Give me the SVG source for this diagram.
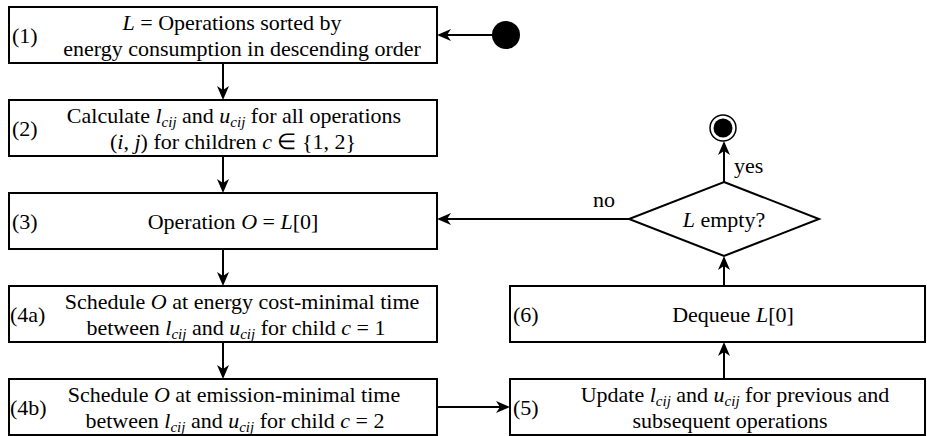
<svg xmlns="http://www.w3.org/2000/svg" width="927" height="436" viewBox="0 0 927 436">
<rect width="927" height="436" fill="#fff"/>
<g id="edges" fill="none" stroke="#000" stroke-width="2">
<line x1="492" y1="35" x2="445" y2="35"/>
<line x1="223" y1="63" x2="223" y2="93"/>
<line x1="223" y1="156" x2="223" y2="186"/>
<line x1="223" y1="249" x2="223" y2="279"/>
<line x1="223" y1="342" x2="223" y2="372"/>
<line x1="437" y1="407" x2="503" y2="407"/>
<line x1="724" y1="379" x2="724" y2="349"/>
<line x1="724" y1="286" x2="724" y2="263"/>
<line x1="724" y1="182" x2="724" y2="148"/>
<line x1="629" y1="219" x2="445" y2="219"/>
</g>
<g id="arrowheads" fill="#000" stroke="none">
<polygon points="437,35 451,29 447,35 451,41"/>
<polygon points="223,100 217,86 223,90 229,86"/>
<polygon points="223,193 217,179 223,183 229,179"/>
<polygon points="223,286 217,272 223,276 229,272"/>
<polygon points="223,379 217,365 223,369 229,365"/>
<polygon points="510,407 496,401 500,407 496,413"/>
<polygon points="724,342 718,356 724,352 730,356"/>
<polygon points="724,256 718,270 724,266 730,270"/>
<polygon points="724,141 718,155 724,151 730,155"/>
<polygon points="437,219 451,213 447,219 451,225"/>
</g>
<g id="edge-labels">
<text font-family="Liberation Serif" font-size="22" x="734" y="173">yes</text>
<text font-family="Liberation Serif" font-size="22" x="593" y="207">no</text>
</g>
<g id="start"><circle cx="506" cy="35" r="14" fill="#000"/></g>
<g id="end"><circle cx="723" cy="128" r="13" fill="#fff" stroke="#000" stroke-width="1.5"/><circle cx="723" cy="128" r="9.5" fill="#000"/></g>
<g id="n1">
<rect x="9" y="7" width="428" height="56" fill="#fff" stroke="#000" stroke-width="2"/>
<text font-family="Liberation Serif" font-size="22" x="12" y="43">(1)</text>
<text font-family="Liberation Serif" font-size="22" text-anchor="middle" x="232" y="29.5"><tspan font-style="italic">L</tspan> = Operations sorted by</text>
<text font-family="Liberation Serif" font-size="22" text-anchor="middle" x="242" y="56">energy consumption in descending order</text>
</g>
<g id="n2">
<rect x="9" y="100" width="428" height="56" fill="#fff" stroke="#000" stroke-width="2"/>
<text font-family="Liberation Serif" font-size="22" x="12" y="136">(2)</text>
<text font-family="Liberation Serif" font-size="22" text-anchor="middle" x="234" y="122.5">Calculate <tspan font-style="italic">l</tspan><tspan font-style="italic" font-size="15" dy="4">cij</tspan><tspan dy="-4"> and </tspan><tspan font-style="italic">u</tspan><tspan font-style="italic" font-size="15" dy="4">cij</tspan><tspan dy="-4"> for all operations</tspan></text>
<text font-family="Liberation Serif" font-size="22" text-anchor="middle" x="233" y="149">(<tspan font-style="italic">i</tspan>, <tspan font-style="italic">j</tspan>) for children <tspan font-style="italic">c</tspan> &#8712; {1, 2}</text>
</g>
<g id="n3">
<rect x="9" y="193" width="428" height="56" fill="#fff" stroke="#000" stroke-width="2"/>
<text font-family="Liberation Serif" font-size="22" x="12" y="228.5">(3)</text>
<text font-family="Liberation Serif" font-size="22" text-anchor="middle" x="233" y="228.5">Operation <tspan font-style="italic">O</tspan> = <tspan font-style="italic">L</tspan>[0]</text>
</g>
<g id="n4a">
<rect x="9" y="286" width="428" height="56" fill="#fff" stroke="#000" stroke-width="2"/>
<text font-family="Liberation Serif" font-size="22" x="10" y="321.5">(4a)</text>
<text font-family="Liberation Serif" font-size="22" text-anchor="middle" x="242" y="308.5">Schedule <tspan font-style="italic">O</tspan> at energy cost-minimal time</text>
<text font-family="Liberation Serif" font-size="22" text-anchor="middle" x="236" y="335">between <tspan font-style="italic">l</tspan><tspan font-style="italic" font-size="15" dy="4">cij</tspan><tspan dy="-4"> and </tspan><tspan font-style="italic">u</tspan><tspan font-style="italic" font-size="15" dy="4">cij</tspan><tspan dy="-4"> for child </tspan><tspan font-style="italic">c</tspan> = 1</text>
</g>
<g id="n4b">
<rect x="9" y="379" width="428" height="56" fill="#fff" stroke="#000" stroke-width="2"/>
<text font-family="Liberation Serif" font-size="22" x="10" y="414.5">(4b)</text>
<text font-family="Liberation Serif" font-size="22" text-anchor="middle" x="234" y="401.5">Schedule <tspan font-style="italic">O</tspan> at emission-minimal time</text>
<text font-family="Liberation Serif" font-size="22" text-anchor="middle" x="235" y="428">between  <tspan font-style="italic">l</tspan><tspan font-style="italic" font-size="15" dy="4">cij</tspan><tspan dy="-4"> and </tspan><tspan font-style="italic">u</tspan><tspan font-style="italic" font-size="15" dy="4">cij</tspan><tspan dy="-4"> for child </tspan><tspan font-style="italic">c</tspan> = 2</text>
</g>
<g id="n5">
<rect x="510" y="379" width="415" height="56" fill="#fff" stroke="#000" stroke-width="2"/>
<text font-family="Liberation Serif" font-size="22" x="513" y="414.5">(5)</text>
<text font-family="Liberation Serif" font-size="22" text-anchor="middle" x="735" y="401.5">Update <tspan font-style="italic">l</tspan><tspan font-style="italic" font-size="15" dy="4">cij</tspan><tspan dy="-4"> and </tspan><tspan font-style="italic">u</tspan><tspan font-style="italic" font-size="15" dy="4">cij</tspan><tspan dy="-4"> for previous and</tspan></text>
<text font-family="Liberation Serif" font-size="22" text-anchor="middle" x="730" y="428">subsequent operations</text>
</g>
<g id="n6">
<rect x="510" y="286" width="415" height="56" fill="#fff" stroke="#000" stroke-width="2"/>
<text font-family="Liberation Serif" font-size="22" x="513" y="321.5">(6)</text>
<text font-family="Liberation Serif" font-size="22" text-anchor="middle" x="733" y="321.5">Dequeue <tspan font-style="italic">L</tspan>[0]</text>
</g>
<g id="decision">
<polygon points="724,182 819,219 724,256 629,219" fill="#fff" stroke="#000" stroke-width="2"/>
<text font-family="Liberation Serif" font-size="22" text-anchor="middle" x="724" y="227"><tspan font-style="italic">L</tspan> empty?</text>
</g>
</svg>
